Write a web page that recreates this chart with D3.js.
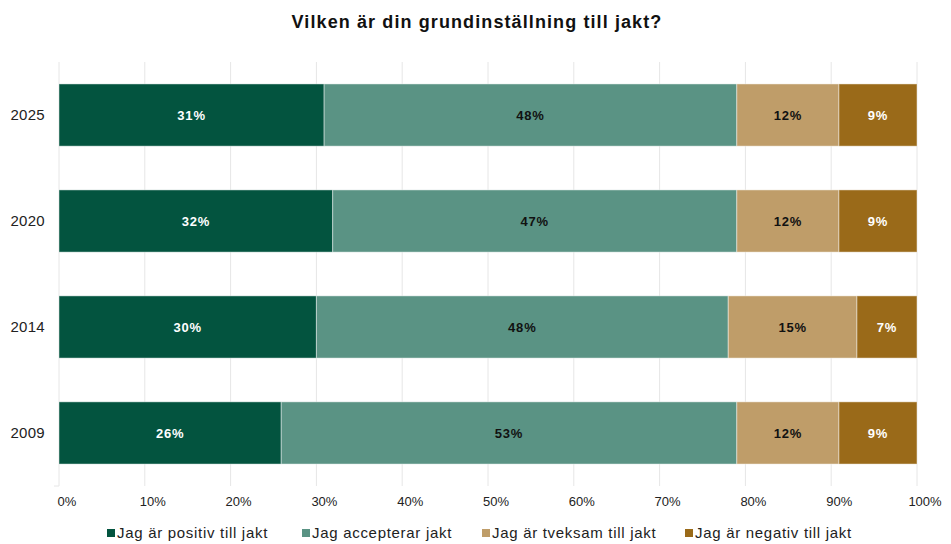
<!DOCTYPE html>
<html>
<head>
<meta charset="utf-8">
<script src="https://cdn.jsdelivr.net/npm/d3@7"></script>
<style>
  body { margin: 0; background: #fff; }
  text { font-family: "Liberation Sans", Arial, sans-serif; }
</style>
</head>
<body>
<div id="chart"></div>
<script>
var svgWidth = 951;
var svgHeight = 544;

// data
var years = ["2025", "2020", "2014", "2009"];
var seriesNames = ["Jag är positiv till jakt", "Jag accepterar jakt", "Jag är tveksam till jakt", "Jag är negativ till jakt"];
var positiv   = [30.9, 31.9, 30.0, 25.9];
var accepterar = [48.1, 47.1, 48.0, 53.1];
var tveksam   = [11.9, 11.9, 15.0, 11.9];
var negativ   = [9.1, 9.1, 7.0, 9.1];
var xTicks = [0, 10, 20, 30, 40, 50, 60, 70, 80, 90, 100];

var colors = ["#03543f", "#5a9384", "#bf9d69", "#9a6a19"];
var labelColors = ["#ffffff", "#111111", "#111111", "#ffffff"];

var margin = { top: 62, right: 34, bottom: 58, left: 59 };
var width = svgWidth - margin.left - margin.right;
var height = svgHeight - margin.top - margin.bottom;

var svg = d3.select("#chart")
  .append("svg")
  .attr("width", svgWidth)
  .attr("height", svgHeight);

var chartGroup = svg.append("g")
  .attr("transform", `translate(${margin.left}, ${margin.top})`);

// build rows for stacking
var rows = years.map(function(y, i) {
  return { year: y, s0: positiv[i], s1: accepterar[i], s2: tveksam[i], s3: negativ[i] };
});
var keys = ["s0", "s1", "s2", "s3"];
var stacked = d3.stack().keys(keys)(rows);

var xScale = d3.scaleLinear().domain([0, 100]).range([0, width]);
var yScale = d3.scaleBand().domain(years).range([0, height]).paddingInner(0.413).paddingOuter(0.207);

// gridlines
chartGroup.selectAll(".grid")
  .data(xTicks)
  .enter()
  .append("line")
  .attr("x1", d => xScale(d))
  .attr("x2", d => xScale(d))
  .attr("y1", 0)
  .attr("y2", height)
  .attr("stroke", "#e6e6e6")
  .attr("stroke-width", 1);

// small stub at the origin
chartGroup.append("line")
  .attr("x1", -5).attr("x2", 0)
  .attr("y1", height).attr("y2", height)
  .attr("stroke", "#e6e6e6");

// bars
var layers = chartGroup.selectAll(".layer")
  .data(stacked)
  .enter()
  .append("g")
  .attr("fill", (d, i) => colors[i]);

layers.selectAll("rect")
  .data(d => d)
  .enter()
  .append("rect")
  .attr("x", d => xScale(d[0]))
  .attr("y", d => yScale(d.data.year))
  .attr("width", d => xScale(d[1]) - xScale(d[0]))
  .attr("height", yScale.bandwidth())
  .attr("stroke", "rgba(255,255,255,0.45)")
  .attr("stroke-width", 1);

// value labels
stacked.forEach(function(layer, i) {
  chartGroup.selectAll(".lbl" + i)
    .data(layer)
    .enter()
    .append("text")
    .attr("x", d => (xScale(d[0]) + xScale(d[1])) / 2)
    .attr("y", d => yScale(d.data.year) + yScale.bandwidth() / 2)
    .attr("dy", "0.35em")
    .attr("text-anchor", "middle")
    .style("fill", labelColors[i])
    .style("font-weight", "bold")
    .style("font-size", "13px")
    .style("letter-spacing", "0.8px")
    .text(d => Math.round(d[1] - d[0]) + "%");
});

// y labels
chartGroup.selectAll(".ylbl")
  .data(years)
  .enter()
  .append("text")
  .attr("x", -14)
  .attr("y", d => yScale(d) + yScale.bandwidth() / 2)
  .attr("dy", "0.35em")
  .attr("text-anchor", "end")
  .style("font-size", "15px")
  .style("letter-spacing", "0.3px")
  .style("fill", "#222")
  .text(d => d);

// x tick labels
chartGroup.selectAll(".xlbl")
  .data(xTicks)
  .enter()
  .append("text")
  .attr("x", d => xScale(d) + 8)
  .attr("y", height + 20)
  .attr("text-anchor", "middle")
  .style("font-size", "13px")
  .style("fill", "#222")
  .text(d => d + "%");

// title
svg.append("text")
  .attr("x", 477)
  .attr("y", 28)
  .attr("text-anchor", "middle")
  .style("font-size", "18px")
  .style("font-weight", "bold")
  .style("letter-spacing", "1.1px")
  .style("fill", "#111")
  .text("Vilken är din grundinställning till jakt?");

// legend
var legendX = [107, 302, 482, 685];
var legend = svg.selectAll(".legend")
  .data(seriesNames)
  .enter()
  .append("g")
  .attr("transform", (d, i) => `translate(${legendX[i]}, 538)`);

legend.append("rect")
  .attr("x", 0)
  .attr("y", -9)
  .attr("width", 8)
  .attr("height", 8)
  .attr("fill", (d, i) => colors[i]);

legend.append("text")
  .attr("x", 10)
  .attr("y", 0)
  .style("font-size", "15px")
  .style("letter-spacing", "0.7px")
  .style("fill", "#222")
  .text(d => d);
</script>
</body>
</html>
